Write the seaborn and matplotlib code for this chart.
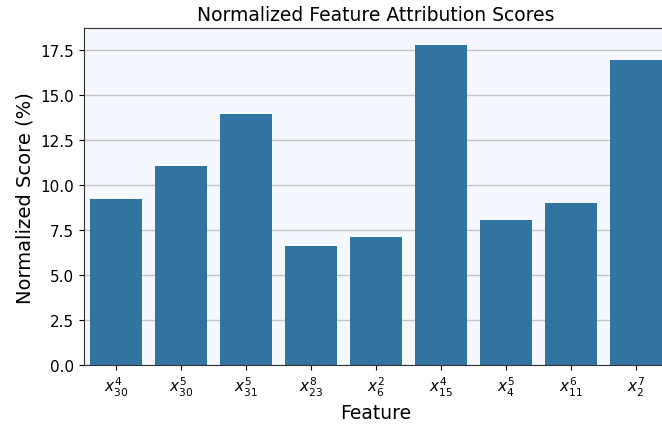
import matplotlib
matplotlib.use("Agg")
import matplotlib.pyplot as plt
import pandas as pd
import seaborn as sns

# feature labels and their normalized scores (%)
features = [r"$x_{30}^{4}$", r"$x_{30}^{5}$", r"$x_{31}^{5}$", r"$x_{23}^{8}$", r"$x_{6}^{2}$",
            r"$x_{15}^{4}$", r"$x_{4}^{5}$", r"$x_{11}^{6}$", r"$x_{2}^{7}$"]
scores = [9.22, 11.06, 13.94, 6.61, 7.11, 17.78, 8.06, 9.0, 16.94]

df = pd.DataFrame({"Feature": features, "Score": scores})

fig = plt.figure(figsize=(6.62, 4.27), dpi=100)
# axes runs a bit past the right edge of the figure, as in the original
ax = fig.add_axes([83.5 / 662, 61 / 427, 584.5 / 662, 336.7 / 427])
ax.set_facecolor("#f5f9ff")
ax.set_axisbelow(True)
ax.yaxis.grid(True, color="#c4c4c4", linewidth=1.0)

sns.barplot(data=df, x="Feature", y="Score", color="#3274a1", saturation=1, ax=ax)

ax.set_ylim(0, 18.7)
ax.set_xlim(-0.5, len(features) - 0.5)
ax.set_title("Normalized Feature Attribution Scores", fontsize=13.5)
ax.set_xlabel("Feature", fontsize=13.5)
ax.set_ylabel("Normalized Score (%)", fontsize=14)
ax.tick_params(axis="both", labelsize=11)
for side in ["left", "bottom", "top", "right"]:
    ax.spines[side].set_color("#333333")

fig.savefig("out.png", dpi=100)
